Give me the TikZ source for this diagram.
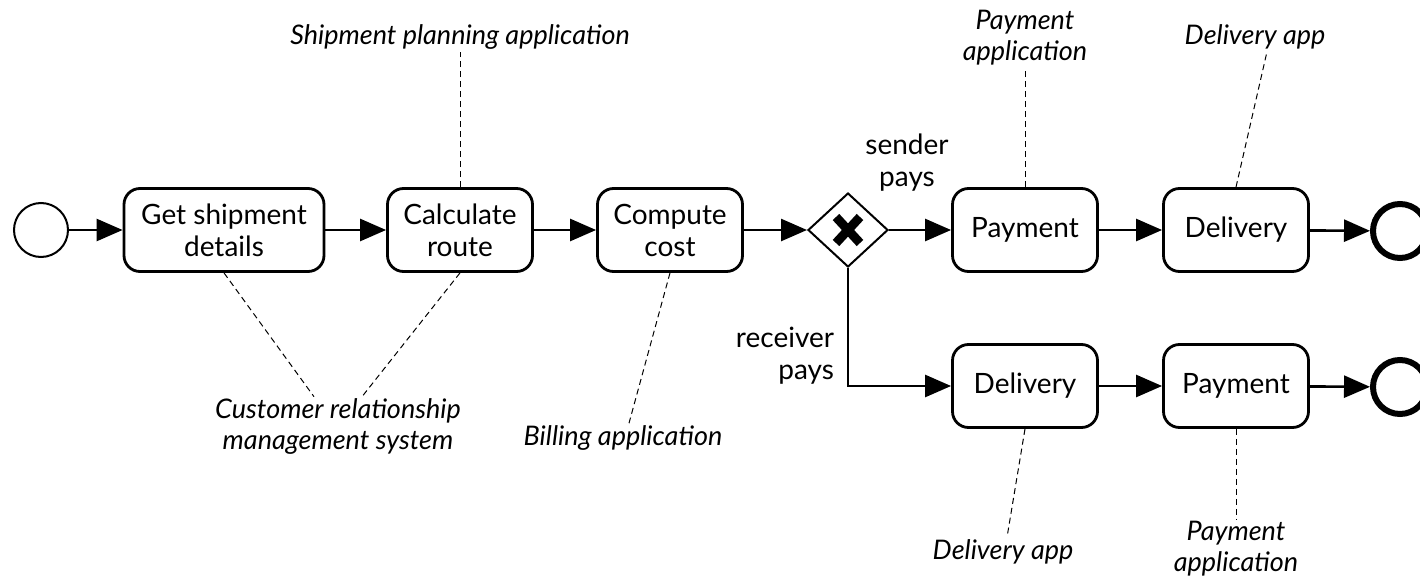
\documentclass[tikz,border=0pt]{standalone}
\usepackage{fontspec}
\setmainfont{Lato}
\usetikzlibrary{
	arrows.meta,
	positioning,
	shapes.geometric
}

\begin{document}
\begin{tikzpicture}[
			x=0.5pt,y=-0.5pt,
			>={Triangle[length=13pt,width=11pt]},
			font=\fontsize{14}{16}\selectfont,
			task/.style={rectangle,draw,rounded corners=8pt,line width=1.4pt,minimum width=72.5pt,minimum height=41.5pt,align=center,inner sep=2pt},
			flow/.style={->,line width=1.3pt},
			assoc/.style={dash pattern=on 3pt off 2pt,line width=0.5pt},
			note/.style={align=center,inner sep=1pt,font=\fontsize{13.5}{15.5}\selectfont\itshape},
			flowlabel/.style={inner sep=1pt}
			]
			
			\useasboundingbox (0,0) rectangle (1420,578);
			
			% Events
			\node[circle,draw,line width=1pt,minimum size=27pt] (start) at (41,230){};
			\node[circle,draw,line width=3pt,minimum size=27pt] (end1) at (1400,231){};
			\node[circle,draw,line width=3pt,minimum size=27pt] (end2) at (1400,387){};
			
			% Tasks
			\node[task,minimum width=100pt] (t1) at (224,230){Get shipment\\details};
			\node[task] (t2) at (460,230){Calculate\\route};
			\node[task] (t3) at (670,230){Compute\\cost};
			\node[task] (pay1) at (1025,230){Payment};
			\node[task] (del1) at (1236,230){Delivery};
			\node[task] (del2) at (1025,386){Delivery};
			\node[task] (pay2) at (1236,386){Payment};
			
			% Gateway
			\node[diamond,draw,line width=1pt,minimum width=40pt,minimum height=37pt,inner sep=0pt] (gw) at (848,230){};
			\draw[line width=4.5pt] ([shift={(-12,-13)}]gw.center)--([shift={(12,13)}]gw.center);
			\draw[line width=4.5pt] ([shift={(-12,13)}]gw.center)--([shift={(12,-13)}]gw.center);
			
			% Sequence flows
			\draw[flow](start)--(t1);
			\draw[flow](t1)--(t2);
			\draw[flow](t2)--(t3);
			\draw[flow](t3)--(gw);
			\draw[flow](gw)--(pay1);
			\draw[flow](pay1)--(del1);
			\draw[flow](del1)--(end1);
			\draw[flow](gw)|-(del2);
			\draw[flow](del2)--(pay2);
			\draw[flow](pay2)--(end2);
			
			\node[flowlabel,align=center] (lsend) at (907,163){sender\\pays};
			\node[flowlabel,align=right] (lrecv) at (785,356){receiver\\pays};
			
			% Annotations
			\node[note] (ship) at (460,37){Shipment planning application};
			\node[note] (crm) at (338,427){Customer relationship\\management system};
			\node[note] (bill) at (623,438){Billing application};
			\node[note] (payapp1) at (1025,38){Payment\\application};
			\node[note] (delapp1) at (1255,37){Delivery app};
			\node[note] (delapp2) at (1003,552){Delivery app};
			\node[note] (payapp2) at (1236,549){Payment\\application};
			
			\draw[assoc](t1.south)--([xshift=-12pt]crm.north);
			\draw[assoc](t2.south)--([xshift=12pt]crm.north);
			\draw[assoc](t2.north)--(ship.south);
			\draw[assoc](t3.south)--([xshift=3pt]bill.north);
			\draw[assoc](pay1.north)--(payapp1.south);
			\draw[assoc](del1.north)--([xshift=6pt]delapp1.south);
			\draw[assoc](del2.south)--([xshift=2pt]delapp2.north);
			\draw[assoc](pay2.south)--(payapp2.north);
			
		\end{tikzpicture}
\end{document}
